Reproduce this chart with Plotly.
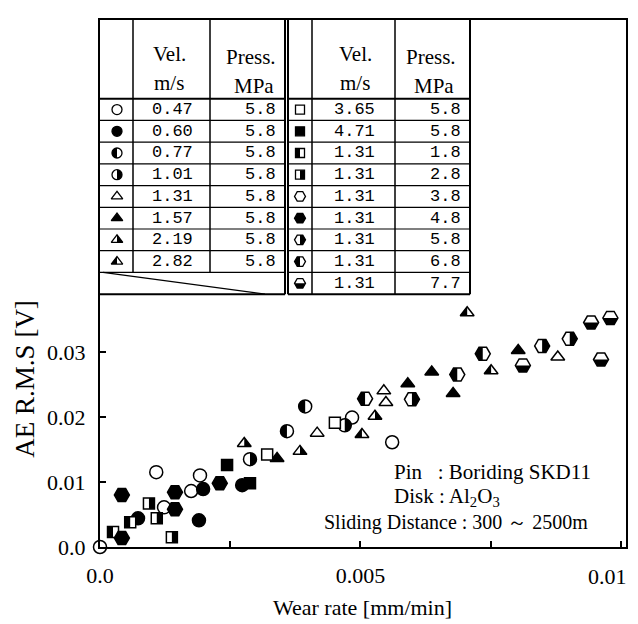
import math
import plotly.graph_objects as go

# ---------------- data ----------------
# legend table (left block)
vel_left = ["0.47", "0.60", "0.77", "1.01", "1.31", "1.57", "2.19", "2.82"]
press_left = ["5.8", "5.8", "5.8", "5.8", "5.8", "5.8", "5.8", "5.8"]
# legend table (right block)
vel_right = ["3.65", "4.71", "1.31", "1.31", "1.31", "1.31", "1.31", "1.31", "1.31"]
press_right = ["5.8", "5.8", "1.8", "2.8", "3.8", "4.8", "5.8", "6.8", "7.7"]

# series values : wear rate [mm/min] , AE R.M.S [V]
v047_x = [0.0, 0.00108, 0.00123, 0.00175, 0.00192, 0.00484, 0.00561]
v047_y = [0.0, 0.0115, 0.0061, 0.0086, 0.0110, 0.0199, 0.0161]
v060_x = [0.00073, 0.00190, 0.00198, 0.00273]
v060_y = [0.0044, 0.0041, 0.0089, 0.0095]
v077_x = [0.00359, 0.00394]
v077_y = [0.0178, 0.0216]
v101_x = [0.00288, 0.00470]
v101_y = [0.0135, 0.0187]
v131_x = [0.00417, 0.00545, 0.00549, 0.00879]
v131_y = [0.0175, 0.0240, 0.0222, 0.0292]
v157_x = [0.00340, 0.00591, 0.00637, 0.00678, 0.00803]
v157_y = [0.0136, 0.0251, 0.0269, 0.0236, 0.0302]
v219_x = [0.00277, 0.00384, 0.00528]
v219_y = [0.0159, 0.0147, 0.0201]
v282_x = [0.00503, 0.00705, 0.00751]
v282_y = [0.0173, 0.0360, 0.0271]
v365_x = [0.00321, 0.00451]
v365_y = [0.0142, 0.0191]
v471_x = [0.00244, 0.00288]
v471_y = [0.0126, 0.0098]
p18_x = [0.00025, 0.00058]
p18_y = [0.0023, 0.0038]
p28_x = [0.00094, 0.00109, 0.00138]
p28_y = [0.0067, 0.0044, 0.0015]
p38_x = []
p38_y = []
p48_x = [0.00042, 0.00042, 0.00144, 0.00144, 0.00230]
p48_y = [0.0080, 0.0014, 0.0084, 0.0058, 0.0098]
p58_x = [0.00599, 0.00849, 0.00902]
p58_y = [0.0227, 0.0309, 0.0320]
p68_x = [0.00509, 0.00686, 0.00735]
p68_y = [0.0228, 0.0265, 0.0297]
p77_x = [0.00812, 0.00943, 0.00980, 0.00962]
p77_y = [0.0279, 0.0345, 0.0352, 0.0288]

x_tickvals = [0.0, 0.005]
x_ticktext = ["0.0", "0.005"]
x_lasttext = "0.01"
x_minorvals = [0.0025, 0.0075, 0.01]
y_tickvals = [0.0, 0.01, 0.02, 0.03]
y_ticktext = ["0.0", "0.01", "0.02", "0.03"]

# ---------------- styles ----------------
# (x, y, symbol, fill) ; fill: open / full / left / right / bottom
series = [
    (v047_x, v047_y, "circle", "open"),
    (v060_x, v060_y, "circle", "full"),
    (v077_x, v077_y, "circle", "left"),
    (v101_x, v101_y, "circle", "right"),
    (v131_x, v131_y, "triangle-up", "open"),
    (v157_x, v157_y, "triangle-up", "full"),
    (v219_x, v219_y, "triangle-up", "right"),
    (v282_x, v282_y, "triangle-up", "left"),
    (v365_x, v365_y, "square", "open"),
    (v471_x, v471_y, "square", "full"),
    (p18_x, p18_y, "square", "left"),
    (p28_x, p28_y, "square", "right"),
    (p38_x, p38_y, "hexagon2", "open"),
    (p48_x, p48_y, "hexagon2", "full"),
    (p58_x, p58_y, "hexagon2", "right"),
    (p68_x, p68_y, "hexagon2", "left"),
    (p77_x, p77_y, "hexagon2", "bottom"),
]
plot_size = {"circle": 13, "triangle-up": 12, "square": 11, "hexagon2": 15}
table_size = {"circle": 10, "triangle-up": 10, "square": 9, "hexagon2": 11}

SERIF = "Liberation Serif, Times New Roman, serif"
MONO = "Liberation Mono, Courier New, monospace"

# page offset of the plot div (body margin)
OFF = 8
FIG_W, FIG_H = 630, 616
# plot area in page pixels
PL, PR, PT, PB = 100, 626, 18, 547
W, H = PR - PL, PB - PT


def px(xp):
    return (xp - PL) / W


def py(yp):
    return (PB - yp) / H


def half_path(symbol, fill, size):
    r = size / 2.0
    k = 0.5523
    if symbol == "circle":
        s = -1 if fill == "left" else 1
        return (f"M 0,{r} C {s*k*r},{r} {s*r},{k*r} {s*r},0 "
                f"C {s*r},{-k*r} {s*k*r},{-r} 0,{-r} Z")
    if symbol == "triangle-up":
        rt = r * 2 / math.sqrt(3)
        s = -1 if fill == "left" else 1
        return f"M 0,{r} L {s*rt},{-r/2} L 0,{-r/2} Z"
    if symbol == "square":
        s = -1 if fill == "left" else 1
        return f"M 0,{-r} L {s*r},{-r} L {s*r},{r} L 0,{r} Z"
    if symbol == "hexagon2":
        rs, rc = r / 2, r * math.sqrt(3) / 2
        if fill == "bottom":
            return f"M {-r},0 L {r},0 L {rs},{-rc} L {-rs},{-rc} Z"
        s = -1 if fill == "left" else 1
        return f"M 0,{rc} L {s*rs},{rc} L {s*r},0 L {s*rs},{-rc} L 0,{-rc} Z"
    return ""


fig = go.Figure()
shapes = []

for xs, ys, sym, fill in series:
    sz = plot_size[sym]
    fig.add_trace(go.Scatter(
        x=xs, y=ys, mode="markers", cliponaxis=False, showlegend=False,
        marker=dict(symbol=sym, size=sz,
                    color="black" if fill == "full" else "white",
                    line=dict(color="black", width=1.5)),
    ))
    if fill in ("left", "right", "bottom"):
        for xv, yv in zip(xs, ys):
            shapes.append(dict(type="path", xref="x", yref="y",
                               xsizemode="pixel", ysizemode="pixel",
                               xanchor=xv, yanchor=yv,
                               path=half_path(sym, fill, sz),
                               fillcolor="black", line=dict(width=0),
                               layer="above"))

# ---------------- legend table ----------------
ROW0, ROWH = 97, 21.8
LEFT_COLS = [PL, 133, 210, 285]
RIGHT_COLS = [288, 312, 395, 470]
TBOT = ROW0 + 9 * ROWH


def line(x0, y0, x1, y1, w=1.3):
    shapes.append(dict(type="line", xref="paper", yref="paper",
                       x0=px(x0), y0=py(y0), x1=px(x1), y1=py(y1),
                       line=dict(color="black", width=w), layer="above"))


# horizontal lines
for i in range(0, 10):
    yy = ROW0 + i * ROWH
    w = 2 if i in (0, 9) else 1.2
    line(LEFT_COLS[0], yy, LEFT_COLS[-1], yy, w)
    line(RIGHT_COLS[0], yy, RIGHT_COLS[-1], yy, w)
# vertical lines
line(LEFT_COLS[1], PT, LEFT_COLS[1], ROW0 + 8 * ROWH, 1.5)
line(LEFT_COLS[2], PT, LEFT_COLS[2], ROW0 + 8 * ROWH, 1.5)
line(LEFT_COLS[3], PT, LEFT_COLS[3], TBOT, 2)
for c in RIGHT_COLS:
    line(c, PT, c, TBOT, 2 if c in (RIGHT_COLS[0], RIGHT_COLS[-1]) else 1.5)
# diagonal in empty cell
line(103, ROW0 + 8 * ROWH, 265, TBOT, 1.3)

annotations = []


def text(xp, yp, s, font, size, anchor="center"):
    annotations.append(dict(x=px(xp), y=py(yp), xref="paper", yref="paper",
                            text=s, showarrow=False, xanchor=anchor,
                            yanchor="middle",
                            font=dict(family=font, size=size, color="black")))


# headers
for cx_v, cx_p in ((169, 251), (355, 431)):
    text(cx_v, 52, "Vel.", SERIF, 21)
    text(cx_v, 81, "m/s", SERIF, 21)
    text(cx_p, 55, "Press.", SERIF, 21)
    text(cx_p + 3, 84, "MPa", SERIF, 21)

# table symbols + values
tab_x, tab_y, tab_sym, tab_fill = [], [], [], []
for i, (v, p) in enumerate(zip(vel_left, press_left)):
    yc = ROW0 + ROWH * (i + 0.5)
    text(172, yc, v, MONO, 17)
    text(278, yc, p, MONO, 17, "right")
    _, _, sym, fill = series[i]
    tab_x.append(117)
    tab_y.append(yc)
    tab_sym.append(sym)
    tab_fill.append(fill)
for i, (v, p) in enumerate(zip(vel_right, press_right)):
    yc = ROW0 + ROWH * (i + 0.5)
    text(354, yc, v, MONO, 17)
    text(463, yc, p, MONO, 17, "right")
    _, _, sym, fill = series[8 + i]
    tab_x.append(300)
    tab_y.append(yc)
    tab_sym.append(sym)
    tab_fill.append(fill)

for xp, yp, sym, fill in zip(tab_x, tab_y, tab_sym, tab_fill):
    sz = table_size[sym]
    fig.add_trace(go.Scatter(
        x=[px(xp)], y=[py(yp)], xaxis="x2", yaxis="y2", mode="markers",
        showlegend=False, cliponaxis=False,
        marker=dict(symbol=sym, size=sz,
                    color="black" if fill == "full" else "white",
                    line=dict(color="black", width=1.3)),
    ))
    if fill in ("left", "right", "bottom"):
        shapes.append(dict(type="path", xref="paper", yref="paper",
                           xsizemode="pixel", ysizemode="pixel",
                           xanchor=px(xp), yanchor=py(yp),
                           path=half_path(sym, fill, sz),
                           fillcolor="black", line=dict(width=0),
                           layer="above"))

# condition text
text(392, 472, "Pin&nbsp;&nbsp;&nbsp;: Boriding SKD11", SERIF, 21, "left")
text(392, 497, "Disk : Al<sub>2</sub>O<sub>3</sub>", SERIF, 21, "left")
text(590, 522, "Sliding Distance : 300 \uff5e 2500m", SERIF, 20, "right")

# last x tick label (kept inside the page)
text(629, 577, x_lasttext, SERIF, 22, "right")

# axis titles
annotations.append(dict(x=px(25), y=py(378), xref="paper", yref="paper",
                        text="AE R.M.S [V]", showarrow=False, textangle=-90,
                        xanchor="center", yanchor="middle",
                        font=dict(family=SERIF, size=27, color="black")))
text(362, 608, "Wear rate [mm/min]", SERIF, 22)

fig.update_layout(
    width=FIG_W, height=FIG_H,
    margin=dict(l=PL - OFF, r=FIG_W - (PR - OFF), t=PT - OFF,
                b=FIG_H - (PB - OFF), pad=0),
    paper_bgcolor="white", plot_bgcolor="white",
    shapes=shapes, annotations=annotations,
    xaxis=dict(range=[0, 0.0101], tickvals=x_tickvals, ticktext=x_ticktext,
               ticks="inside", ticklen=6, tickwidth=1.5, tickcolor="black",
               minor=dict(tickvals=x_minorvals, ticks="inside", ticklen=6,
                          tickwidth=1.5, tickcolor="black", showgrid=False),
               ticklabelstandoff=8,
               showline=True, mirror=True, linecolor="black", linewidth=2,
               showgrid=False, zeroline=False,
               tickfont=dict(family=SERIF, size=22, color="black")),
    yaxis=dict(range=[0, 0.081], tickvals=y_tickvals, ticktext=y_ticktext,
               ticks="inside", ticklen=6, tickwidth=1.5, tickcolor="black",
               ticklabelstandoff=8,
               showline=True, mirror=True, linecolor="black", linewidth=2,
               showgrid=False, zeroline=False,
               tickfont=dict(family=SERIF, size=22, color="black")),
    xaxis2=dict(range=[0, 1], overlaying="x", anchor="y2", visible=False),
    yaxis2=dict(range=[0, 1], overlaying="y", anchor="x2", visible=False),
)

fig.write_html("out.html")
